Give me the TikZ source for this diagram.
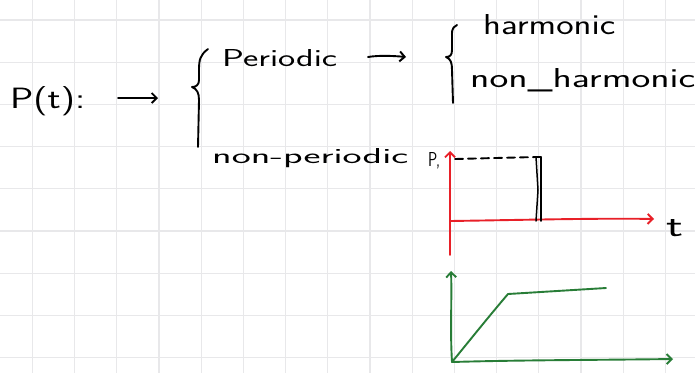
\documentclass[tikz,border=0pt]{standalone}
\usetikzlibrary{arrows.meta}
\definecolor{gridc}{RGB}{232,232,234}
\definecolor{penred}{RGB}{232,32,40}
\definecolor{pengreen}{RGB}{40,125,55}
\tikzset{
  ink/.style={line width=1.9pt, line cap=round, line join=round},
  hand/.style={inner sep=0pt, anchor=base west, font=\fontsize{19}{21}\selectfont\sffamily},
  tip/.style={-{Straight Barb[length=5pt,width=10pt]}}
}
\begin{document}
\begin{tikzpicture}[x=1pt,y=-1pt]
\useasboundingbox (0,0) rectangle (695,373);
\fill[white] (0,0) rectangle (695,373);
% grid
\foreach \k in {0,...,15} \draw[gridc, line width=1.2pt] ({32.3+42.2*\k},0) -- ({32.3+42.2*\k},373);
\foreach \k in {0,...,8} \draw[gridc, line width=1.2pt] (0,{20+42.2*\k}) -- (695,{20+42.2*\k});
% texts (anchored at base west)
\node[hand] (pt) at (10,108) {\resizebox{75pt}{22pt}{P(t):}};
\node[hand] (periodic) at (222,66) {\resizebox{115pt}{17pt}{Periodic}};
\node[hand] (harmonic) at (483,34) {\resizebox{132pt}{20pt}{harmonic}};
\node[hand] (nonharm) at (470,87) {\resizebox{225pt}{19pt}{non\_harmonic}};
\node[hand] (nonper) at (212,163) {\resizebox{196pt}{15pt}{non-periodic}};
\node[hand] (pzero) at (428,166) {\resizebox{12pt}{14pt}{P,}};
\node[hand] (tlab) at (666,236) {\resizebox{17pt}{17pt}{t}};
% arrows and braces
\coordinate (a1s) at (118,98); \coordinate (a1e) at (158,98);
\draw[ink,tip] (a1s) -- (a1e);
\draw[ink] (208,49) .. controls (200,55) and (199,60) .. (199,70) -- (199,80) .. controls (199,85) and (196,87) .. (192,87)
           .. controls (197,89) and (199,93) .. (199,100) -- (198,147);
\coordinate (a2s) at (368,57); \coordinate (a2e) at (406,57);
\draw[ink,tip] (a2s) .. controls (380,55) and (395,56) .. (a2e);
\draw[ink] (457,25) .. controls (451,28) and (452,32) .. (452,38) -- (452,50) .. controls (452,55) and (450,57) .. (446,57)
           .. controls (451,59) and (452,63) .. (452,70) -- (453,103);
% red axes
\coordinate (rO) at (450,221); \coordinate (rB) at (450,255);
\coordinate (rT) at (450,151); \coordinate (rR) at (654,219);
\draw[ink,penred,tip] (rB) -- (rT);
\draw[ink,penred,tip] (rO) .. controls (520,220) and (600,218) .. (rR);
% dashed level and pulse
\coordinate (dL) at (455,159); \coordinate (dR) at (536,157);
\draw[ink,dash pattern=on 8pt off 5pt] (dL) -- (dR);
\draw[ink,line width=1.5pt] (536,157) -- (538,190) -- (536,221);
\draw[ink,line width=1.5pt] (541,157) -- (541,221);
\draw[ink,line width=1.5pt] (536,157) -- (541,157);
% green axes and curve
\coordinate (gO) at (452,362); \coordinate (gT) at (451,271); \coordinate (gR) at (673,359);
\coordinate (gK) at (508,294); \coordinate (gE) at (606,288);
\draw[ink,pengreen,tip] (gO) .. controls (450,330) and (452,300) .. (gT);
\draw[ink,pengreen,tip] (gO) .. controls (520,360) and (600,360) .. (gR);
\draw[ink,pengreen] (gO) .. controls (470,340) and (490,315) .. (gK) -- (gE);
\end{tikzpicture}
\end{document}
